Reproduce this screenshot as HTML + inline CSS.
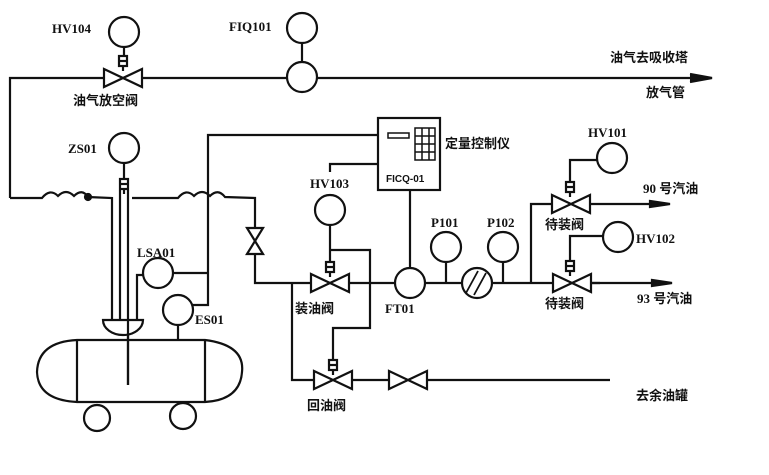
<!DOCTYPE html>
<html><head><meta charset="utf-8"><style>body{margin:0;background:#fff}svg{display:block}</style></head><body>
<svg width="769" height="475" viewBox="0 0 769 475" xmlns="http://www.w3.org/2000/svg" font-family="Liberation Serif, 'Noto Serif CJK SC', serif" font-weight="bold" fill="none" stroke="#111" stroke-width="2.2">
<defs>
<g id="vh"><path d="M-19,-9 L19,9 L19,-9 L-19,9 Z" fill="#fff"/></g>
<g id="act"><rect x="-4" y="-7" width="8" height="10" fill="#fff"/><line x1="-4" y1="-2" x2="4" y2="-2"/><line x1="0" y1="3" x2="0" y2="8"/></g>
</defs>
<!-- top line -->
<path d="M10,198 L10,78 L705,78"/>
<path d="M690,74 L712,78 L690,82" fill="#111"/>
<circle cx="124" cy="32" r="15"/><line x1="124" y1="47" x2="124" y2="56"/>
<use href="#act" x="123" y="63"/><use href="#vh" x="123" y="78"/>
<circle cx="302" cy="28" r="15"/><line x1="302" y1="43" x2="302" y2="62"/>
<circle cx="302" cy="77" r="15" fill="#fff"/>
<!-- left coil -->
<path d="M10,198 L42,198 Q50,188 58,196 Q66,188 74,196 Q82,188 88,197 L112,198 L112,320"/>
<circle cx="88" cy="197" r="3" fill="#111"/>
<path d="M120,190 L120,320 M128,190 L128,385 M132,198 L178,198 Q186,188 194,196 Q202,188 210,196 Q218,188 225,197 L255,198 L255,283 L600,283"/>
<circle cx="124" cy="148" r="15"/><line x1="124" y1="163" x2="124" y2="178"/>
<use href="#act" x="124" y="186"/>
<path d="M247,228 L263,228 L247,254 L263,254 Z" fill="#fff"/>
<!-- controller box -->
<rect x="378" y="118" width="62" height="72"/>
<rect x="388" y="133" width="21" height="5" stroke-width="1.5"/>
<path d="M415,128 h20 v32 h-20 Z M422,128 v32 M429,128 v32 M415,136 h20 M415,144 h20 M415,152 h20" stroke-width="1.5"/>
<path d="M378,135 L208,135 L208,305 L193,305 M208,273 L173,273 M378,164 L330,164 L330,172"/>
<line x1="410" y1="190" x2="410" y2="268"/>
<!-- tank -->
<circle cx="158" cy="273" r="15" fill="#fff"/>
<path d="M143,275 L137,275 L137,330"/>
<circle cx="178" cy="310" r="15" fill="#fff"/><line x1="178" y1="325" x2="178" y2="340"/>
<path d="M103,320 L143,320 A20,15 0 0 1 103,320 Z" fill="#fff"/>
<path d="M77,340 L205,340 Q245,345 242,372 Q240,400 205,402 L77,402 Q38,400 37,372 Q38,342 77,340 Z M77,340 L77,402 M205,340 L205,402"/>
<line x1="128" y1="320" x2="128" y2="385"/>
<circle cx="97" cy="418" r="13"/><circle cx="183" cy="416" r="13"/>
<!-- HV103 -->
<circle cx="330" cy="210" r="15"/><line x1="330" y1="225" x2="330" y2="262"/>
<use href="#act" x="330" y="269"/><use href="#vh" x="330" y="283"/>
<path d="M330,250 L370,250 L370,328 L333,328 L333,360"/>
<use href="#act" x="333" y="367"/><use href="#vh" x="333" y="380"/>
<path d="M292,283 L292,380 L314,380 M352,380 L390,380 M426,380 L610,380"/>
<use href="#vh" x="408" y="380"/>
<!-- FT01 & meters -->
<circle cx="410" cy="283" r="15" fill="#fff"/>
<circle cx="446" cy="247" r="15"/><line x1="446" y1="262" x2="446" y2="283"/>
<circle cx="503" cy="247" r="15"/><line x1="503" y1="262" x2="503" y2="283"/>
<circle cx="477" cy="283" r="15" fill="#fff"/>
<path d="M466,293 L478,271 M474,295 L486,273" stroke-width="1.8"/>
<path d="M531,283 L531,204 L552,204"/>
<use href="#vh" x="571" y="204"/><use href="#act" x="570" y="189"/>
<use href="#vh" x="572" y="283"/><use href="#act" x="570" y="268"/>
<path d="M590,204 L660,204 M591,283 L660,283"/>
<path d="M650,201 L670,204 L650,207 Z M652,280 L672,283 L652,286 Z" fill="#111"/>
<circle cx="612" cy="158" r="15"/><path d="M597,160 L570,160 L570,182"/>
<circle cx="618" cy="237" r="15"/><path d="M603,236 L570,236 L570,261"/>
<g fill="#111" stroke="none" font-size="13">
<text x="52" y="33">HV104</text>
<text x="229" y="31">FIQ101</text>
<text x="73" y="105" font-family="'Noto Sans CJK SC',sans-serif" font-size="13">油气放空阀</text>
<text x="610" y="62" font-family="'Noto Sans CJK SC',sans-serif" font-size="13">油气去吸收塔</text>
<text x="646" y="97" font-family="'Noto Sans CJK SC',sans-serif" font-size="13">放气管</text>
<text x="68" y="153">ZS01</text>
<text x="310" y="188">HV103</text>
<text x="137" y="257">LSA01</text>
<text x="195" y="324">ES01</text>
<text x="385" y="313">FT01</text>
<text x="431" y="227">P101</text>
<text x="487" y="227">P102</text>
<text x="588" y="137">HV101</text>
<text x="636" y="243">HV102</text>
<text x="386" y="182" font-size="10" font-family="Liberation Sans,sans-serif">FICQ-01</text>
<text x="445" y="148" font-family="'Noto Sans CJK SC',sans-serif">定量控制仪</text>
<text x="295" y="313" font-family="'Noto Sans CJK SC',sans-serif">装油阀</text>
<text x="307" y="410" font-family="'Noto Sans CJK SC',sans-serif">回油阀</text>
<text x="545" y="229" font-family="'Noto Sans CJK SC',sans-serif">待装阀</text>
<text x="545" y="308" font-family="'Noto Sans CJK SC',sans-serif">待装阀</text>
<text x="643" y="193" font-family="'Liberation Serif','Noto Sans CJK SC',sans-serif">90 号汽油</text>
<text x="637" y="303" font-family="'Liberation Serif','Noto Sans CJK SC',sans-serif">93 号汽油</text>
<text x="636" y="400" font-family="'Noto Sans CJK SC',sans-serif">去余油罐</text>
</g>
</svg>
</body></html>
